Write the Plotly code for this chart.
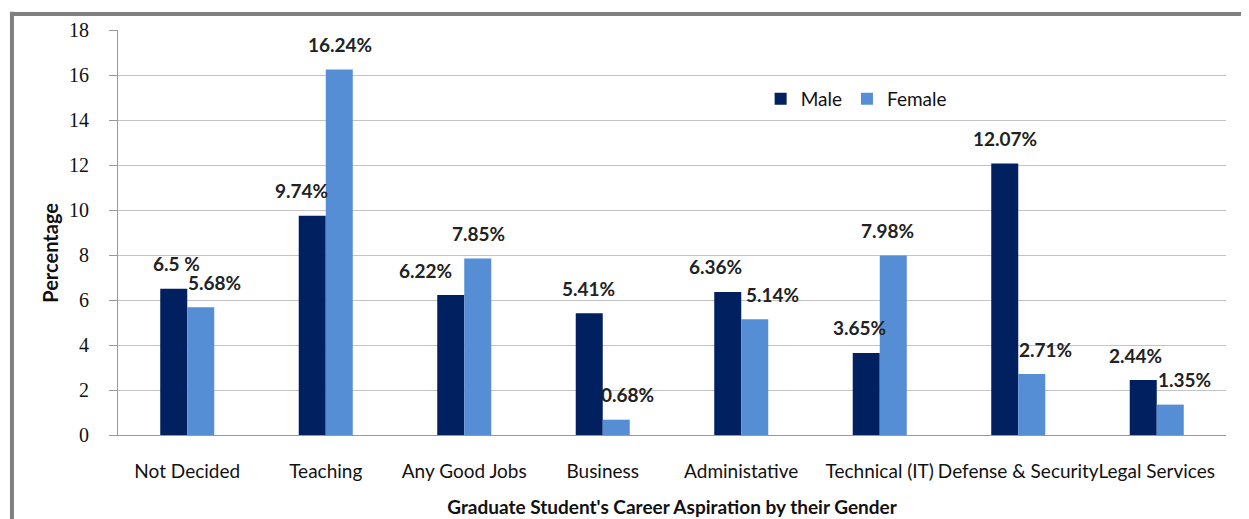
import plotly.graph_objects as go

categories = ["Not Decided", "Teaching", "Any Good Jobs", "Business", "Administative",
              "Technical (IT)", "Defense & Security", "Legal Services"]
male = [6.5, 9.74, 6.22, 5.41, 6.36, 3.65, 12.07, 2.44]
female = [5.68, 16.24, 7.85, 0.68, 5.14, 7.98, 2.71, 1.35]
male_labels = ["6.5 %", "9.74%", "6.22%", "5.41%", "6.36%", "3.65%", "12.07%", "2.44%"]
female_labels = ["5.68%", "16.24%", "7.85%", "0.68%", "5.14%", "7.98%", "2.71%", "1.35%"]
# label horizontal nudges (pixels) as placed in the original
male_dx = [3, -11, -25, -1, -12, -7, 0, -8]
female_dx = [14, 1, 1, 11, 18, -6, 14, 14]

MALE_C = "#002060"
FEMALE_C = "#558ED5"
FONT = "Lato, 'Open Sans', sans-serif"
SERIF = "'Liberation Serif', 'DejaVu Serif', serif"

fig = go.Figure()
fig.add_trace(go.Bar(name="Male", x=categories, y=male, marker_color=MALE_C,
                     marker_line_width=0))
fig.add_trace(go.Bar(name="Female", x=categories, y=female, marker_color=FEMALE_C,
                     marker_line_width=0))

ann = []
for i, c in enumerate(categories):
    ann.append(dict(x=c, y=male[i], text="<b>" + male_labels[i] + "</b>", showarrow=False,
                    xshift=-13.5 + male_dx[i], yshift=25, xref="x", yref="y",
                    font=dict(size=19, color="#222", family=FONT)))
    ann.append(dict(x=c, y=female[i], text="<b>" + female_labels[i] + "</b>", showarrow=False,
                    xshift=13.5 + female_dx[i], yshift=25, xref="x", yref="y",
                    font=dict(size=19, color="#222", family=FONT)))
# y-axis title, placed as in the original (slightly below the plot centre)
ann.append(dict(x=-0.0614, y=0.45, xref="paper", yref="paper", text="<b>Percentage</b>",
                textangle=-90, showarrow=False, xanchor="center", yanchor="middle",
                font=dict(size=20, color="#111", family=FONT)))

fig.update_layout(
    width=1249, height=519,
    margin=dict(l=110, r=31, t=22, b=92, autoexpand=False),
    paper_bgcolor="white", plot_bgcolor="white",
    barmode="group", bargap=0.61, bargroupgap=0,
    font=dict(family=FONT, size=19, color="#111"),
    annotations=ann,
    legend=dict(orientation="h", x=0.58, y=0.83, xanchor="left", yanchor="middle",
                font=dict(size=19, family=FONT), bgcolor="rgba(0,0,0,0)",
                itemwidth=30, traceorder="normal"),
    showlegend=True,
    shapes=[
        dict(type="line", xref="paper", yref="paper", x0=-0.0975, x1=1.04,
             y0=1.0395, y1=1.0395, line=dict(color="#808080", width=4)),
        dict(type="line", xref="paper", yref="paper", x0=-0.0957, x1=-0.0957,
             y0=1.045, y1=-0.3, line=dict(color="#808080", width=4)),
    ],
)
fig.update_xaxes(showline=True, linecolor="#999", linewidth=1, ticks="", automargin=False,
                 tickangle=0,
                 ticklabelstandoff=19, tickfont=dict(size=19, family=FONT, color="#111"),
                 title=dict(text="<b>Graduate Student's Career Aspiration by their Gender</b>",
                            font=dict(size=19, family=FONT), standoff=19))
fig.update_yaxes(range=[0, 18], dtick=2, showline=True, linecolor="#999", linewidth=1,
                 automargin=False,
                 gridcolor="#c4c4c4", gridwidth=1, ticks="outside", ticklen=8,
                 tickcolor="#999", ticklabelstandoff=16, zeroline=False,
                 tickfont=dict(size=20, family=SERIF, color="#111"))

fig.write_html("out.html")
